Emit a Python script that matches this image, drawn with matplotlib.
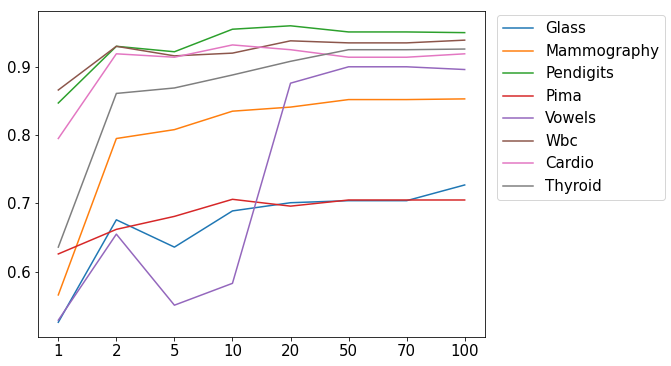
import numpy as np
import matplotlib.pyplot as plt

ks = ['1', '2', '5', '10', '20', '50', '70', '100']

glass = [0.526, 0.676, 0.636, 0.689, 0.701, 0.704, 0.704, 0.727]
mammography = [0.566, 0.795, 0.808, 0.835, 0.841, 0.852, 0.852, 0.853]
pendigits = [0.847, 0.930, 0.922, 0.955, 0.960, 0.951, 0.951, 0.950]
pima = [0.626, 0.662, 0.681, 0.706, 0.696, 0.705, 0.705, 0.705]
vowels = [0.529, 0.655, 0.551, 0.583, 0.876, 0.900, 0.900, 0.896]
wbc = [0.866, 0.930, 0.916, 0.920, 0.938, 0.935, 0.935, 0.939]
cardio = [0.795, 0.919, 0.914, 0.932, 0.925, 0.914, 0.914, 0.919]
thyroid = [0.636, 0.861, 0.869, 0.888, 0.908, 0.925, 0.925, 0.926]

names = ['Glass', 'Mammography', 'Pendigits', 'Pima', 'Vowels', 'Wbc', 'Cardio', 'Thyroid']
series = [glass, mammography, pendigits, pima, vowels, wbc, cardio, thyroid]

# saved at 72 dpi like the original notebook output
fig = plt.figure(figsize=(671 / 72, 366 / 72), dpi=72)
ax = fig.add_subplot(111)
fig.subplots_adjust(left=0.0566, right=0.7228, top=0.970, bottom=0.079)

for name, vals in zip(names, series):
    ax.plot(ks, vals, label=name)

ax.tick_params(labelsize=15)
ax.legend(fontsize=15, loc='upper left', bbox_to_anchor=(1.017, 1.0), borderaxespad=0.3)

plt.savefig('out.png', dpi=72)
